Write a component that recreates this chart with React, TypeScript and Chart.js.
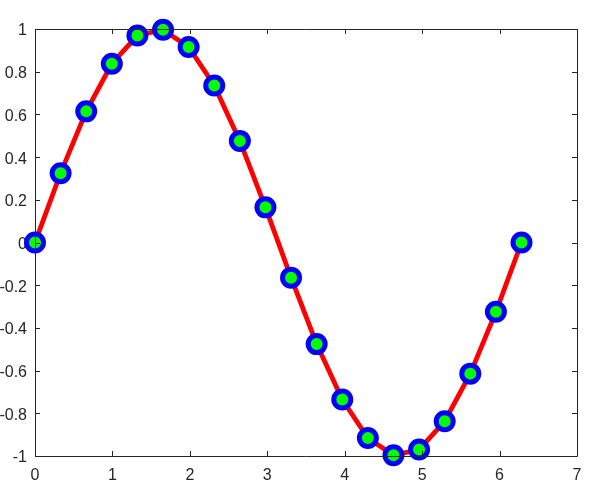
import React, { useEffect, useRef } from "react";
import { Chart, registerables } from "chart.js";

Chart.register(...registerables);

const xValues = [0, 0.3307, 0.6614, 0.9921, 1.3228, 1.6535, 1.9842, 2.3149, 2.6456, 2.9762, 3.3069, 3.6376, 3.9683, 4.299, 4.6297, 4.9604, 5.2911, 5.6218, 5.9525, 6.2832];
const yValues = [0, 0.3247, 0.6142, 0.8372, 0.9694, 0.9966, 0.9158, 0.7357, 0.4759, 0.1646, -0.1646, -0.4759, -0.7357, -0.9158, -0.9966, -0.9694, -0.8372, -0.6142, -0.3247, 0];
const xTicks = [0, 1, 2, 3, 4, 5, 6, 7];
const yTicks = [-1, -0.8, -0.6, -0.4, -0.2, 0, 0.2, 0.4, 0.6, 0.8, 1];

const AXIS_COLOR = "#262626";
const FONT = "'Liberation Sans', Arial, Helvetica, sans-serif";

const boxPlugin = {
  id: "matlabBox",
  afterDatasetsDraw(chart: any) {
    const { ctx, chartArea, scales } = chart;
    const { left, right, top, bottom } = chartArea;
    ctx.save();
    ctx.strokeStyle = AXIS_COLOR;
    ctx.lineWidth = 1;
    ctx.beginPath();
    ctx.rect(Math.round(left) + 0.5, Math.round(top) + 0.5, Math.round(right - left), Math.round(bottom - top));
    const tl = 5;
    xTicks.forEach((v) => {
      const px = Math.round(scales.x.getPixelForValue(v)) + 0.5;
      ctx.moveTo(px, bottom);
      ctx.lineTo(px, bottom - tl);
      ctx.moveTo(px, top);
      ctx.lineTo(px, top + tl);
    });
    yTicks.forEach((v) => {
      const py = Math.round(scales.y.getPixelForValue(v)) + 0.5;
      ctx.moveTo(left, py);
      ctx.lineTo(left + tl, py);
      ctx.moveTo(right, py);
      ctx.lineTo(right - tl, py);
    });
    ctx.stroke();
    ctx.restore();
  },
};

export default function App() {
  const ref = useRef<HTMLCanvasElement | null>(null);
  useEffect(() => {
    if (!ref.current) return;
    const chart = new Chart(ref.current, {
      type: "line",
      data: {
        datasets: [
          {
            data: xValues.map((x, i) => ({ x, y: yValues[i] })),
            borderColor: "#ff0000",
            borderWidth: 4.8,
            pointRadius: 8.5,
            pointBorderWidth: 5,
            pointBorderColor: "#0000ff",
            pointBackgroundColor: "#00ff00",
            pointHoverRadius: 8.5,
            tension: 0,
            clip: false as any,
          },
        ],
      },
      options: {
        responsive: false,
        animation: false,
        layout: { padding: { top: 29, right: 19, left: 0, bottom: 0 } },
        plugins: { legend: { display: false }, tooltip: { enabled: false } },
        scales: {
          x: {
            type: "linear",
            min: 0,
            max: 7,
            afterBuildTicks: (s: any) => {
              s.ticks = xTicks.map((v) => ({ value: v }));
            },
            afterFit: (s: any) => {
              s.height = 34;
            },
            grid: { display: false, drawTicks: false },
            border: { display: false },
            ticks: {
              padding: 10,
              color: AXIS_COLOR,
              font: { family: FONT, size: 16 },
              maxRotation: 0,
              callback: (v: any) => String(v),
            },
          },
          y: {
            type: "linear",
            min: -1,
            max: 1,
            afterBuildTicks: (s: any) => {
              s.ticks = yTicks.map((v) => ({ value: v }));
            },
            afterFit: (s: any) => {
              s.width = 35;
            },
            grid: { display: false, drawTicks: false },
            border: { display: false },
            ticks: {
              padding: 8,
              labelOffset: 2,
              color: AXIS_COLOR,
              font: { family: FONT, size: 16 },
              callback: (v: any) => String(Math.round(Number(v) * 10) / 10),
            },
          },
        },
      },
      plugins: [boxPlugin],
    });
    return () => chart.destroy();
  }, []);
  return (
    <div style={{ position: "fixed", left: 0, top: 0, width: 596, height: 490, background: "#fff" }}>
      <canvas ref={ref} width={596} height={490} style={{ display: "block" }} />
    </div>
  );
}
